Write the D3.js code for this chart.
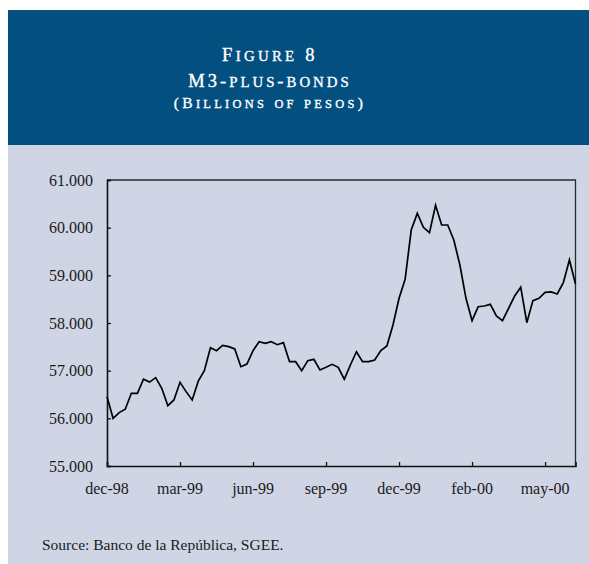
<!DOCTYPE html>
<html>
<head>
<meta charset="utf-8">
<script src="https://cdn.jsdelivr.net/npm/d3@7/dist/d3.min.js"></script>
<style>
  html, body { margin: 0; padding: 0; background: #ffffff; }
  svg { display: block; }
</style>
</head>
<body>
<svg id="chart" width="589" height="564"></svg>
<script>
// Weekly M3-plus-bonds, billions of pesos (dec-98 .. jun-00)
const values = [
  56454, 56000, 56120, 56190, 56525, 56525, 56820, 56760, 56853, 56630,
  56265, 56385, 56755, 56560, 56385, 56780, 57000, 57482, 57419, 57531,
  57503, 57455, 57084, 57140, 57419, 57608, 57574, 57608, 57545, 57587,
  57189, 57189, 57000, 57210, 57238, 57014, 57070, 57133, 57070, 56820,
  57119, 57398, 57189, 57189, 57224, 57420, 57520, 57958, 58518, 58916,
  59950, 60300, 60007, 59895, 60469, 60056, 60056, 59741, 59217, 58518,
  58049, 58342, 58357, 58392, 58147, 58049, 58308, 58566, 58749, 58007,
  58469, 58518, 58644, 58651, 58608, 58846, 59322, 58818
];
// Quarterly date labels and the week index each one sits on
const tickLabels = ["dec-98", "mar-99", "jun-99", "sep-99", "dec-99", "feb-00", "may-00"];
const tickWeeks = [0, 12, 24, 36, 48, 60, 72];
const yTicks = [55000, 56000, 57000, 58000, 59000, 60000, 61000];

const svg = d3.select("#chart");

// Header band and body panel
svg.append("rect").attr("x", 8).attr("y", 10).attr("width", 581).attr("height", 135).attr("fill", "#034f7f");
svg.append("rect").attr("x", 8).attr("y", 145).attr("width", 581).attr("height", 419).attr("fill", "#cfd5e5");

// Small-caps heading: lowercase letters are set as reduced capitals
const titleFont = "'Liberation Serif', 'DejaVu Serif', serif";
function smallCaps(sel, str, big, small) {
  const runs = [];
  for (const ch of str) {
    const low = ch !== ch.toUpperCase();
    const last = runs[runs.length - 1];
    if (last && last.low === low) last.t += ch; else runs.push({ low, t: ch });
  }
  sel.selectAll("tspan").data(runs).join("tspan")
    .style("font-size", d => (d.low ? small : big) + "px")
    .text(d => d.t.toUpperCase());
}
const tcx = 270;
const heads = [
  { t: "Figure 8", y: 61, big: 18.5, small: 14.8, ls: 3.3 },
  { t: "M3-plus-bonds", y: 87, big: 18.5, small: 14.8, ls: 3.0 },
  { t: "(Billions of pesos)", y: 108, big: 15.5, small: 12.4, ls: 3.3 }
];
heads.forEach(h => {
  const t = svg.append("text").attr("x", tcx).attr("y", h.y).attr("text-anchor", "middle")
    .attr("fill", "#ffffff").attr("stroke", "#ffffff").attr("stroke-width", 0.35)
    .style("font-family", titleFont).style("letter-spacing", h.ls + "px");
  smallCaps(t, h.t, h.big, h.small);
});

// Plot area
const plotL = 107, plotR = 575.5, plotT = 180, plotB = 466;
const x = d3.scaleLinear().domain([0, values.length - 1]).range([plotL, plotR]);
const y = d3.scaleLinear().domain([55000, 61000]).range([plotB, plotT]);

const fmt = v => d3.format(",")(v).replace(",", ".");
const axisFont = "'Liberation Serif', 'Times New Roman', serif";

// Frame: top and right edges
svg.append("path")
  .attr("d", `M${plotL},${plotT}H${plotR}V${plotB}`)
  .attr("fill", "none").attr("stroke", "#2a2a2a").attr("stroke-width", 1.3);

const yAxis = svg.append("g").attr("transform", `translate(${plotL},0)`)
  .call(d3.axisRight(y).tickValues(yTicks).tickSize(4).tickFormat(""));
yAxis.select(".domain").attr("stroke", "#111").attr("stroke-width", 1.6);
yAxis.selectAll(".tick line").attr("stroke", "#111").attr("stroke-width", 1.3);

svg.append("g").selectAll("text").data(yTicks).join("text")
  .attr("x", 93).attr("y", d => y(d) + 5.5).attr("text-anchor", "end")
  .style("font-family", axisFont).style("font-size", "16px").attr("fill", "#1a1a1a")
  .text(fmt);

const xAxis = svg.append("g").attr("transform", `translate(0,${plotB})`)
  .call(d3.axisTop(x).tickValues(tickWeeks).tickSize(4).tickFormat(""));
xAxis.select(".domain").attr("stroke", "#111").attr("stroke-width", 1.6);
xAxis.selectAll(".tick line").attr("stroke", "#111").attr("stroke-width", 1.3);

svg.append("g").selectAll("text").data(tickWeeks).join("text")
  .attr("x", d => x(d)).attr("y", 494).attr("text-anchor", "middle")
  .style("font-family", axisFont).style("font-size", "16px").attr("fill", "#1a1a1a")
  .text((d, i) => tickLabels[i]);

// Series line
svg.append("path").datum(values)
  .attr("fill", "none").attr("stroke", "#000").attr("stroke-width", 1.7)
  .attr("stroke-linejoin", "miter")
  .attr("d", d3.line().x((d, i) => x(i)).y(d => y(d)));

svg.append("text").attr("x", 42).attr("y", 550)
  .style("font-family", axisFont).style("font-size", "15.5px").attr("fill", "#1a1a1a")
  .text("Source: Banco de la República, SGEE.");
</script>
</body>
</html>
